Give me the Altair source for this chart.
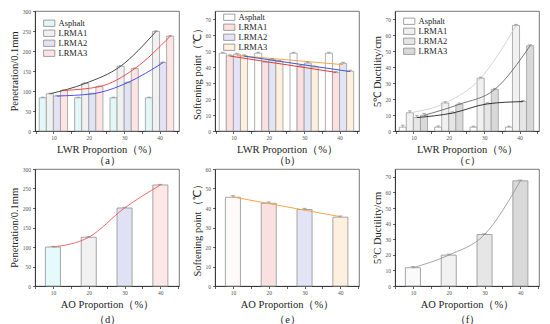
import altair as alt
import pandas as pd

series = ["Asphalt", "LRMA1", "LRMA2", "LRMA3"]
props = [10, 20, 30, 40]

# (a) penetration vs LWR proportion
pen_asphalt = [83, 83, 83, 83]
pen_lrma1 = [93, 119, 162, 249]
pen_lrma2 = [87.5, 93, 121, 171]
pen_lrma3 = [101.5, 111, 156, 237]
pen_err = [1.5, 1.5, 1.5, 1.5]

# (b) softening point vs LWR proportion
sp_asphalt = [48.6, 48.6, 48.6, 48.6]
sp_lrma1 = [47.0, 43.0, 40.5, 36.5]
sp_lrma2 = [48.0, 44.5, 42.5, 42.3]
sp_lrma3 = [47.0, 43.5, 40.0, 37.4]
sp_err = [0.6, 0.6, 0.6, 0.6]

# (c) 5C ductility vs LWR proportion
du_asphalt = [2.4, 2.4, 2.4, 2.4]
du_lrma1 = [11.4, 17.5, 33.0, 66.0]
du_lrma2 = [8.4, 11.2, 17.0, 18.4]
du_lrma3 = [9.8, 16.7, 26.0, 53.3]
du_err = [1.2, 0.8, 0.6, 0.6]

# (d)-(f) AO proportion
ao_pen = [100, 125, 200, 259]
ao_pen_err = [1.5, 1.5, 1.5, 1.5]
ao_sp = [45.5, 42.4, 39.2, 35.3]
ao_sp_err = [0.8, 0.7, 0.6, 0.6]
ao_du = [11.7, 19.8, 33.0, 67.4]
ao_du_err = [0.8, 0.6, 0.5, 0.5]

FONT = "Liberation Serif"
W, H_TOP, H_BOT = 144, 120, 117


def group_df(vals, err):
    rows = []
    for s, vs in zip(series, vals):
        for p, v, e in zip(props, vs, err):
            rows.append({"p": p, "s": s, "v": v, "e": e})
    return pd.DataFrame(rows)


def x_axis(title, line_h):
    return alt.Axis(title=title, values=[5, 10, 15, 20, 25, 30, 35, 40, 45],
                    labelExpr="datum.value % 10 === 0 ? datum.label : ''",
                    titleLineHeight=line_h)


def y_axis(title, step, top):
    return alt.Axis(title=title, values=list(range(0, top + 1, step)))


def group_panel(df, fills, line_series, line_colors, ymax, ytop, ystep,
                ytitle, xtitle, kind, leg_y):
    xs = alt.Scale(domain=[4.8, 45.5], nice=False, zero=False)
    ys = alt.Scale(domain=[0, ymax], nice=False)
    base = alt.Chart(df).transform_calculate(
        xc="datum.p + indexof(['Asphalt','LRMA1','LRMA2','LRMA3'], datum.s) * 2 - 3",
    ).transform_calculate(
        x0="datum.xc - 1", x1="datum.xc + 1",
        hi="datum.v + datum.e", c0="datum.xc - 0.5", c1="datum.xc + 0.5",
    )
    xa = x_axis(xtitle, 11)
    ya = y_axis(ytitle, ystep, ytop)
    bars = base.mark_bar(stroke="#9c9c9c", strokeWidth=0.8).encode(
        x=alt.X("x0:Q", scale=xs, axis=xa), x2="x1:Q",
        y=alt.Y("v:Q", scale=ys, axis=ya), y2=alt.datum(0),
        fill=alt.Fill("s:N", scale=alt.Scale(domain=series, range=fills),
                      legend=alt.Legend(title=None, orient="none", legendX=10, legendY=leg_y,
                                        symbolType="M-1.6,-0.9H1.6V0.9H-1.6Z", symbolSize=49,
                                        symbolStrokeColor="#8a8a8a", symbolStrokeWidth=0.8,
                                        labelFont=FONT, labelFontSize=8.5, labelColor="#222",
                                        rowPadding=0, labelOffset=5)),
    )
    stem = base.mark_rule(color="#888", strokeWidth=0.7).encode(
        x=alt.X("xc:Q", scale=xs, axis=xa), y=alt.Y("v:Q", scale=ys, axis=ya), y2="hi:Q")
    cap = base.mark_rule(color="#888", strokeWidth=0.7).encode(
        x=alt.X("c0:Q", scale=xs, axis=xa), x2="c1:Q", y=alt.Y("hi:Q", scale=ys, axis=ya))
    lb = base.transform_filter(alt.FieldOneOfPredicate(field="s", oneOf=line_series))
    if kind == "reg":
        lb = lb.transform_regression("xc", "v", groupby=["s"])
        line = lb.mark_line(strokeWidth=1.0)
    else:
        line = lb.mark_line(strokeWidth=0.9, interpolate="monotone")
    line = line.encode(
        x=alt.X("xc:Q", scale=xs, axis=xa), y=alt.Y("v:Q", scale=ys, axis=ya),
        stroke=alt.Stroke("s:N", scale=alt.Scale(domain=line_series, range=line_colors), legend=None),
    )
    return alt.layer(bars, line, stem, cap).properties(width=W, height=H_TOP)


def single_panel(vals, err, fills, line_color, ymax, ytop, ystep, ytitle, xtitle, kind):
    df = pd.DataFrame({"p": props, "v": vals, "e": err})
    xs = alt.Scale(domain=[5, 45.2], nice=False, zero=False)
    ys = alt.Scale(domain=[0, ymax], nice=False)
    base = alt.Chart(df).transform_calculate(
        x0="datum.p - 2.1", x1="datum.p + 2.1",
        hi="datum.v + datum.e", c0="datum.p - 0.6", c1="datum.p + 0.6",
    )
    xa = x_axis(xtitle, 15)
    ya = y_axis(ytitle, ystep, ytop)
    bars = base.mark_bar(stroke="#9c9c9c", strokeWidth=0.9).encode(
        x=alt.X("x0:Q", scale=xs, axis=xa), x2="x1:Q",
        y=alt.Y("v:Q", scale=ys, axis=ya), y2=alt.datum(0),
        fill=alt.Fill("p:N", scale=alt.Scale(domain=props, range=fills), legend=None),
    )
    stem = base.mark_rule(color="#888", strokeWidth=0.7).encode(
        x=alt.X("p:Q", scale=xs, axis=xa), y=alt.Y("v:Q", scale=ys, axis=ya), y2="hi:Q")
    cap = base.mark_rule(color="#888", strokeWidth=0.7).encode(
        x=alt.X("c0:Q", scale=xs, axis=xa), x2="c1:Q", y=alt.Y("hi:Q", scale=ys, axis=ya))
    if kind == "reg":
        line = base.transform_regression("p", "v").mark_line(strokeWidth=1.0, color=line_color)
    else:
        line = base.mark_line(strokeWidth=0.9, interpolate="monotone", color=line_color)
    line = line.encode(x=alt.X("p:Q", scale=xs, axis=xa), y=alt.Y("v:Q", scale=ys, axis=ya))
    return alt.layer(bars, line, stem, cap).properties(width=W, height=H_BOT)


pa = group_panel(group_df([pen_asphalt, pen_lrma1, pen_lrma2, pen_lrma3], pen_err),
                 ["#e2f7f7", "#f1f1f1", "#e3e3f6", "#fde5e5"],
                 ["LRMA1", "LRMA2", "LRMA3"], ["#333333", "#3b3bf0", "#f03b3b"],
                 300, 300, 50, "Penetration/0.1mm", ["LWR Proportion（%）", "（a）"], "curve", 8)
pb = group_panel(group_df([sp_asphalt, sp_lrma1, sp_lrma2, sp_lrma3], sp_err),
                 ["#ffffff", "#fae0e0", "#e3e5f6", "#fdf0df"],
                 ["LRMA1", "LRMA2", "LRMA3"], ["#e03c3c", "#f5a54a", "#3a58c8"],
                 75, 70, 10, "Softening point（℃）", ["LWR Proportion（%）", "（b）"], "reg", 2)
pc = group_panel(group_df([du_asphalt, du_lrma1, du_lrma2, du_lrma3], du_err),
                 ["#ffffff", "#f1f1f1", "#e6e6e6", "#d9d9d9"],
                 ["LRMA1", "LRMA2", "LRMA3"], ["#cfcfcf", "#222222", "#6a6a6a"],
                 75, 70, 10, "5℃ Ductility/cm", ["LWR Proportion（%）", "（c）"], "curve", 6)

pd_ = single_panel(ao_pen, ao_pen_err, ["#e5fbfb", "#f1f1f1", "#e1e1f5", "#fde7e7"], "#f25a5a",
                   300, 300, 50, "Penetration/0.1mm", ["AO Proportion（%）", "（d）"], "curve")
pe = single_panel(ao_sp, ao_sp_err, ["#fffafa", "#fae0e0", "#e3e5f6", "#fdf0df"], "#f5a54a",
                  60, 60, 10, "Softening point（℃）", ["AO Proportion（%）", "（e）"], "reg")
pf = single_panel(ao_du, ao_du_err, ["#fafafa", "#f1f1f1", "#e6e6e6", "#d9d9d9"], "#9a9a9a",
                  75, 70, 10, "5°C Ductility/cm", ["AO Proportion（%）", "（f）"], "curve")

top = alt.hconcat(pa, pb, pc, spacing=11).resolve_scale(fill="independent", stroke="independent")
bottom = alt.hconcat(pd_, pe, pf, spacing=11).resolve_scale(fill="independent", stroke="independent")

chart = alt.vconcat(top, bottom, spacing=0).resolve_scale(
    fill="independent", stroke="independent"
).configure(
    padding=0, background="white"
).configure_view(
    stroke="#555", strokeWidth=0.8
).configure_legend(
    labelFont=FONT, labelFontSize=8.5
).configure_axis(
    grid=False, domainColor="#222", domainWidth=0.8, tickColor="#222", tickSize=2.5,
    tickWidth=0.7, labelFont=FONT, labelFontSize=5.5, labelColor="#555", labelPadding=2,
    titleFont=FONT, titleFontSize=10.5, titleFontWeight="normal", titleColor="#222",
    titlePadding=3,
)

chart.save("out.html", embed_options={"renderer": "svg", "actions": False})
